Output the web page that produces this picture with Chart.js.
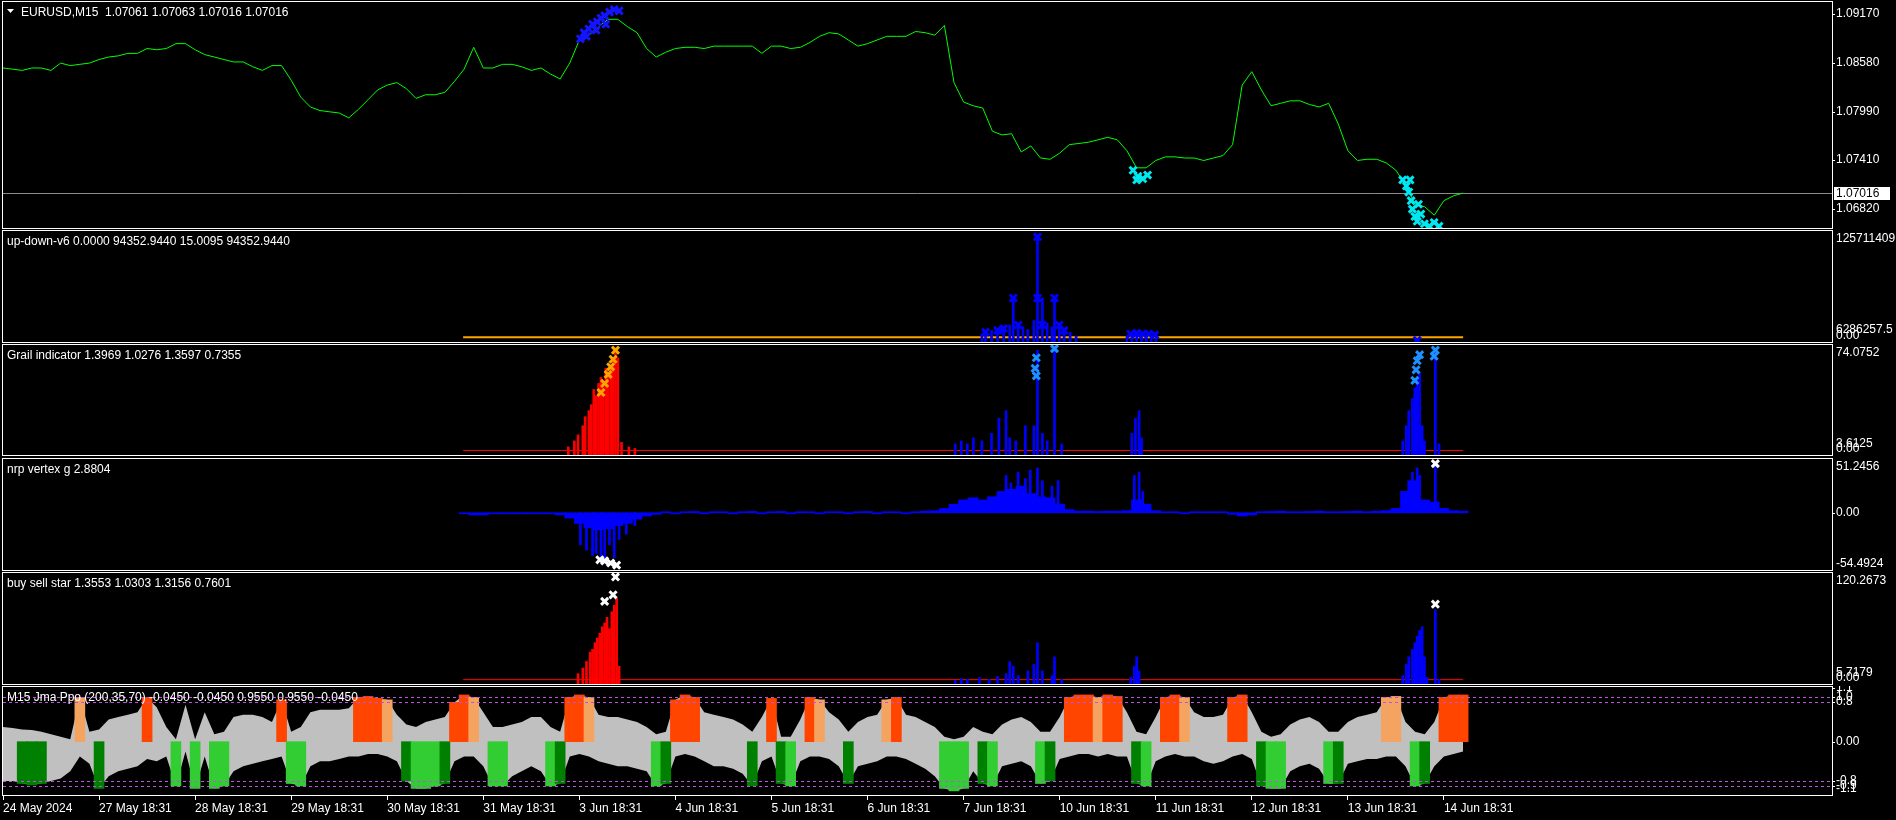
<!DOCTYPE html>
<html>
<head>
<meta charset="utf-8">
<script src="https://cdn.jsdelivr.net/npm/chart.js@4.4.1/dist/chart.umd.min.js"></script>
<style>
  html, body { margin: 0; background: #000; overflow: hidden; width: 1896px; height: 820px; }
  canvas { position: absolute; left: 0; }
</style>
</head>
<body>
<canvas id="p1" width="1896" height="228" style="top:1px"></canvas>
<canvas id="p2" width="1896" height="113" style="top:230px"></canvas>
<canvas id="p3" width="1896" height="112" style="top:344px"></canvas>
<canvas id="p4" width="1896" height="113" style="top:458px"></canvas>
<canvas id="p5" width="1896" height="113" style="top:572px"></canvas>
<canvas id="p6" width="1896" height="134" style="top:686px"></canvas>
<script>
// time axis is in trading days from 24 May, one sample every STEP days
const STEP = 0.1;
const X_MAX = 19.04;
const IND_START = 4.79;
const DATA_END = 15.2;
const DAY_LABELS = ["24 May 2024", "27 May 18:31", "28 May 18:31", "29 May 18:31", "30 May 18:31", "31 May 18:31",
  "3 Jun 18:31", "4 Jun 18:31", "5 Jun 18:31", "6 Jun 18:31", "7 Jun 18:31", "10 Jun 18:31", "11 Jun 18:31",
  "12 Jun 18:31", "13 Jun 18:31", "14 Jun 18:31"];

// EURUSD M15 close
const PRICE = [
  1.08520, 1.08506, 1.08491, 1.08520, 1.08520, 1.08491, 1.08579, 1.08549, 1.08564, 1.08579,
  1.08622, 1.08652, 1.08666, 1.08696, 1.08696, 1.08754, 1.08740, 1.08754, 1.08813, 1.08813,
  1.08740, 1.08681, 1.08652, 1.08622, 1.08593, 1.08593, 1.08535, 1.08491, 1.08549, 1.08549,
  1.08373, 1.08169, 1.08051, 1.08008, 1.07993, 1.07978, 1.07920, 1.08022, 1.08139, 1.08256,
  1.08315, 1.08344, 1.08271, 1.08154, 1.08198, 1.08198, 1.08227, 1.08359, 1.08506, 1.08769,
  1.08520, 1.08520, 1.08564, 1.08564, 1.08535, 1.08491, 1.08520, 1.08447, 1.08388, 1.08579,
  1.08857, 1.08915, 1.09018, 1.09106, 1.09106, 1.09018, 1.08945, 1.08754, 1.08652, 1.08710,
  1.08754, 1.08769, 1.08769, 1.08754, 1.08783, 1.08783, 1.08783, 1.08783, 1.08783, 1.08696,
  1.08783, 1.08783, 1.08754, 1.08769, 1.08827, 1.08901, 1.08945, 1.08930, 1.08857, 1.08783,
  1.08813, 1.08857, 1.08901, 1.08901, 1.08901, 1.08959, 1.08945, 1.08915, 1.09032, 1.08344,
  1.08110, 1.08066, 1.08037, 1.07759, 1.07715, 1.07729, 1.07510, 1.07583, 1.07437, 1.07422,
  1.07495, 1.07598, 1.07612, 1.07627, 1.07656, 1.07686, 1.07656, 1.07525, 1.07319, 1.07319,
  1.07407, 1.07451, 1.07451, 1.07437, 1.07437, 1.07407, 1.07437, 1.07466, 1.07598, 1.08315,
  1.08476, 1.08256, 1.08066, 1.08095, 1.08125, 1.08125, 1.08081, 1.08051, 1.08095, 1.07847,
  1.07525, 1.07407, 1.07422, 1.07422, 1.07378, 1.07290, 1.07115, 1.06880, 1.06851, 1.06749,
  1.06924, 1.06982, 1.07016
];
const LAST_PRICE = 1.07016;
const PRICE_TICKS = [1.09170, 1.08580, 1.07990, 1.07410, 1.06820];

const BLUE_MARK_X = [6.011, 6.049, 6.099, 6.137, 6.074, 6.187, 6.225, 6.263, 6.313, 6.363, 6.414, 6.175, 6.275];
const BLUE_MARK_Y = [1.08871, 1.08945, 1.08989, 1.09047, 1.08901, 1.09076, 1.09120, 1.09149, 1.09193, 1.09223, 1.09208, 1.08974, 1.09047];
const CYAN_MARK_X = [11.764, 11.815, 11.865, 11.915, 11.802,
  14.571, 14.609, 14.634, 14.659, 14.672, 14.697, 14.722, 14.760, 14.797, 14.848, 14.898, 14.949, 14.735, 14.647];
const CYAN_MARK_Y = [1.07290, 1.07217, 1.07188, 1.07232, 1.07173,
  1.07173, 1.07100, 1.07027, 1.06924, 1.06822, 1.06734, 1.06676, 1.06763, 1.06646, 1.06617, 1.06661, 1.06617, 1.06881, 1.07173];

// up-down-v6 (millions)
const UD_MAX = 125.711409;
const UD_LEVEL = 6.2862575;
const UD_BAR_X = [10.190, 10.228, 10.291, 10.354, 10.417, 10.480, 10.517, 10.568, 10.618, 10.669, 10.731, 10.769, 10.820, 10.870,
  10.920, 10.946, 10.996, 11.046, 11.109, 11.172, 11.701, 11.751, 11.802, 11.852, 11.902, 11.953, 12.003];
const UD_BAR_Y = [10, 12, 14, 12, 18, 20, 50, 22, 18, 15, 25, 118, 50, 22, 18, 50, 20, 15, 12, 8, 8, 10, 12, 10, 9, 8, 6];
const UD_MARK_X = [10.517, 10.769, 10.946, 10.568, 10.820, 10.996, 10.769, 10.228, 10.354, 10.417, 11.046,
  11.739, 11.802, 11.865, 11.927, 11.991, 14.722];
const UD_MARK_Y = [50, 50, 50, 20, 20, 20, 118, 12, 14, 16, 14, 10, 11, 10, 10, 9, 3];

// Grail indicator
const GR_MAX = 74.0752;
const GR_LEVEL = 3.6125;
const GR_RED_X = [5.885, 5.948, 5.986, 6.036, 6.061, 6.099, 6.124, 6.150, 6.175, 6.200, 6.225, 6.250, 6.275, 6.300, 6.326,
  6.351, 6.376, 6.401, 6.439, 6.515, 6.578];
const GR_RED_Y = [6, 10, 14, 20, 26, 30, 34, 44, 40, 48, 52, 46, 58, 55, 60, 64, 68, 65, 9, 6, 5];
const GR_ORANGE_X = [6.225, 6.263, 6.300, 6.326, 6.351, 6.376];
const GR_ORANGE_Y = [42, 48, 54, 59, 64, 70];
const GR_BLUE_X = [9.913, 9.976, 10.039, 10.102, 10.190, 10.291, 10.367, 10.442, 10.480, 10.543, 10.643, 10.731, 10.769, 10.820,
  10.870, 10.946, 11.021, 11.751, 11.789, 11.827, 11.852,
  14.571, 14.609, 14.634, 14.672, 14.697, 14.722, 14.747, 14.773, 14.797, 14.911, 14.949];
const GR_BLUE_Y = [8, 10, 8, 12, 10, 15, 25, 30, 12, 10, 20, 20, 70, 15, 10, 72, 8, 15, 25, 30, 12,
  10, 20, 30, 38, 45, 50, 55, 20, 10, 68, 8];
const GR_SKY_X = [10.757, 10.744, 10.757, 10.946, 14.722, 14.710, 14.697, 14.747, 14.911, 14.898];
const GR_SKY_Y = [65, 58, 53, 71, 63, 57, 50, 67, 70, 66];

// nrp vertex g
const NRP_MAX = 51.2456;
const NRP_MIN = -54.4924;
const NRP_START = 4.8;
const NRP = [
  -1, -2, -2, -1, -1, -1, -1, -1, -1, -1,
  -2, -5, -10, -14, -16, -15, -12, -10, -6, -3,
  -1.5, 1, -1, 1, 1.2, -1, 1, 1, -1, 1,
  1.2, -1, 1, 1.2, -1, 1, 1, -1, 1, 1,
  -1, 1, 1.2, -1, 1, 1, -1, 1, 1.5, 2,
  4, 8, 12, 14, 12, 15, 20, 22, 25, 18,
  15, 14, 8, 3, 1.5, 1.5, 1.2, 1.5, 1.5, 2,
  12, 8, 2, 1, 1, -1, 1, 1, 1, 1,
  -1.5, -3, -2, 1, 1.2, 1.5, 1, 1, 1.2, 1.5,
  1, 1, 1.2, 1.5, 1, 1.5, 2, 4, 20, 30,
  12, 10, 4, 2, 1.5
];
const NRP_SPIKE_X = [6.011, 6.074, 6.137, 6.175, 6.225, 6.263, 6.313, 6.363, 6.414, 6.489, 6.578,
  10.442, 10.492, 10.568, 10.643, 10.694, 10.769, 10.820, 10.920, 10.983, 11.777, 11.827, 11.865,
  14.634, 14.672, 14.722, 14.747, 14.911];
const NRP_SPIKE_Y = [-30, -35, -40, -38, -44, -48, -30, -42, -25, -20, -12,
  35, 28, 38, 32, 40, 42, 30, 25, 30, 35, 38, 20, 30, 38, 42, 35, 47];
const NRP_MARK_X = [6.213, 6.263, 6.326, 6.388, 14.911];
const NRP_MARK_Y = [-44, -45, -47, -49, 46];

// buy sell star
const BSS_MAX = 120.2673;
const BSS_LEVEL = 5.7179;
const BSS_RED_X = [5.986, 6.036, 6.074, 6.112, 6.137, 6.162, 6.187, 6.213, 6.238, 6.263, 6.288, 6.313, 6.338, 6.363, 6.388, 6.414];
const BSS_RED_Y = [12, 18, 25, 35, 38, 45, 50, 55, 62, 66, 72, 60, 78, 85, 92, 20];
const BSS_BLUE_X = [9.913, 9.976, 10.039, 10.165, 10.266, 10.354, 10.442, 10.480, 10.517, 10.568, 10.669, 10.731, 10.769, 10.820,
  10.920, 10.946, 11.021, 11.739, 11.777, 11.802, 11.827,
  14.571, 14.609, 14.634, 14.672, 14.697, 14.722, 14.747, 14.773, 14.797, 14.823, 14.911, 14.949];
const BSS_BLUE_Y = [5, 7, 6, 8, 6, 9, 12, 25, 20, 10, 15, 22, 45, 15, 10, 30, 6, 8, 20, 30, 15,
  10, 22, 30, 38, 45, 52, 58, 62, 30, 8, 80, 6];
const BSS_MARK_X = [6.263, 6.351, 6.376, 14.911];
const BSS_MARK_Y = [89, 96, 115, 86];

// Jma Ppo envelope and histogram colour per sample
const JMA_UP = [
  .30, .28, .25, .24, .20, .15, .10, .05, .90, .20,
  .25, .45, .50, .55, .60, .90, .70, .30, .05, .75,
  .05, .60, .15, .20, .50, .55, .55, .50, .40, .85,
  .20, .30, .60, .65, .65, .65, .68, .90, .92, .88,
  .85, .55, .35, .30, .40, .45, .50, .80, .95, .90,
  .60, .30, .30, .35, .40, .50, .50, .30, .20, .90,
  .95, .90, .55, .50, .50, .45, .40, .30, .15, .20,
  .85, .95, .90, .60, .55, .50, .45, .35, .20, .50,
  .88, .10, .10, .45, .90, .85, .60, .45, .20, .40,
  .50, .55, .85, .90, .55, .50, .40, .30, .10, .05,
  .10, .30, .20, .15, .35, .45, .50, .40, .20, .20,
  .50, .90, .95, .95, .90, .95, .92, .60, .20, .15,
  .50, .90, .95, .90, .60, .50, .50, .55, .90, .95,
  .60, .20, .10, .15, .35, .45, .50, .40, .20, .20,
  .40, .50, .55, .60, .90, .92, .40, .20, .15, .40,
  .90, .95, .95
];
const JMA_DN = [
  -.80, -.80, -.85, -.88, -.85, -.80, -.75, -.60, -.30, -.45,
  -.95, -.70, -.60, -.55, -.50, -.35, -.40, -.30, -.90, -.20,
  -.95, -.30, -.95, -.90, -.60, -.50, -.45, -.40, -.35, -.30,
  -.85, -.90, -.50, -.40, -.40, -.35, -.30, -.30, -.25, -.25,
  -.30, -.40, -.80, -.95, -.95, -.90, -.85, -.40, -.30, -.30,
  -.50, -.90, -.90, -.70, -.60, -.50, -.60, -.90, -.85, -.30,
  -.25, -.30, -.40, -.45, -.50, -.50, -.55, -.60, -.90, -.85,
  -.30, -.25, -.30, -.40, -.50, -.50, -.55, -.65, -.90, -.40,
  -.30, -.85, -.90, -.40, -.30, -.30, -.35, -.50, -.85, -.50,
  -.45, -.40, -.30, -.30, -.35, -.45, -.55, -.70, -.95, -1.0,
  -.95, -.60, -.85, -.90, -.50, -.45, -.40, -.50, -.85, -.80,
  -.35, -.30, -.25, -.25, -.30, -.25, -.30, -.30, -.85, -.90,
  -.40, -.30, -.25, -.30, -.30, -.40, -.45, -.40, -.30, -.25,
  -.35, -.90, -.95, -.95, -.60, -.50, -.45, -.55, -.85, -.85,
  -.45, -.40, -.35, -.35, -.30, -.30, -.50, -.90, -.85, -.50,
  -.30, -.25, -.20
];
const JMA_ZONE =
  "..GGG...S." + "G....R..L." + "L.LL.....R" + "LL.....RRR" + "S.GLLLGRRS" +
  ".LL....LGR" + "RS......LG" + "RRR.....G." + "RGL.RS..G." + "..SR....LL" +
  "L.GL....LG" + ".RRRSRR.GL" + ".RRS....RR" + ".GLL....LG" + "....SS.LG." + "RRR";
const JMA_LEVELS = [0.9, 0.8, -0.8, -0.9];
const ZONE_COLORS = { R: "#ff4500", S: "#f4a460", G: "#008000", L: "#32cd32" };

const FONT = '12px "Liberation Sans", Arial, sans-serif';

const xy = (xs, ys) => xs.map((x, i) => ({ x, y: ys[i] }));
const series = (start, vals) => vals.map((y, i) => ({ x: start + i * STEP, y }));

// frame, right-hand scale labels, title, levels
const mtPanel = {
  id: "mtPanel",
  beforeDatasetsDraw(chart, args, o) {
    const { ctx, chartArea: a } = chart;
    const y = chart.scales.y;
    ctx.save();
    if (o.price != null) {
      const py = Math.round(y.getPixelForValue(o.price)) + 0.5;
      ctx.strokeStyle = "#8c8c8c";
      ctx.lineWidth = 1;
      ctx.beginPath(); ctx.moveTo(a.left, py); ctx.lineTo(a.right, py); ctx.stroke();
    }
    ctx.restore();
  },
  afterDraw(chart, args, o) {
    const { ctx, chartArea: a } = chart;
    const y = chart.scales.y;
    ctx.save();
    if (o.levels) {
      ctx.strokeStyle = "#c050e0";
      ctx.lineWidth = 1;
      ctx.setLineDash([3, 3]);
      o.levels.forEach(v => {
        const py = Math.round(y.getPixelForValue(v)) + 0.5;
        ctx.beginPath(); ctx.moveTo(a.left, py); ctx.lineTo(a.right, py); ctx.stroke();
      });
      ctx.setLineDash([]);
    }
    ctx.strokeStyle = "#fff";
    ctx.lineWidth = 1;
    ctx.strokeRect(a.left - 0.5, a.top + 0.5, a.right - a.left + 1, a.bottom - a.top - 1);

    ctx.font = FONT;
    ctx.fillStyle = "#fff";
    ctx.textAlign = "left";
    (o.labels || []).forEach(([v, text, base]) => {
      const py = Math.round(y.getPixelForValue(v));
      ctx.textBaseline = base;
      if (base === "middle") {
        ctx.fillRect(a.right, py, 3, 1);
      }
      const ty = base === "top" ? py + 3 : base === "bottom" ? py - 1 : py;
      ctx.fillText(text, a.right + 4, ty);
    });
    if (o.price != null) {
      const py = Math.round(y.getPixelForValue(o.price));
      ctx.fillStyle = "#fff";
      ctx.fillRect(a.right + 2, py - 6, 56, 13);
      ctx.fillStyle = "#000";
      ctx.textBaseline = "middle";
      ctx.fillText(o.price.toFixed(5), a.right + 4, py + 1);
    }
    ctx.fillStyle = "#fff";
    ctx.textBaseline = "middle";
    let tx = a.left + 4;
    if (o.arrow) {
      ctx.beginPath();
      ctx.moveTo(a.left + 4, a.top + 8); ctx.lineTo(a.left + 11, a.top + 8); ctx.lineTo(a.left + 7.5, a.top + 12);
      ctx.closePath(); ctx.fill();
      tx = a.left + 18;
    }
    ctx.fillText(o.title, tx, a.top + 12);
    ctx.restore();
  }
};

function panel(id, datasets, yMin, yMax, panelOpts, showX) {
  const xScale = { type: "linear", min: 0, max: X_MAX, offset: false, display: false };
  if (showX) {
    Object.assign(xScale, {
      display: true,
      afterBuildTicks: axis => { axis.ticks = DAY_LABELS.map((l, i) => ({ value: i })); },
      afterFit: axis => { axis.height = 24; },
      border: { display: false },
      grid: { drawOnChartArea: false, drawTicks: true, tickLength: 4, color: "#fff", offset: false },
      ticks: {
        autoSkip: false, maxRotation: 0, align: "start", padding: 1, color: "#fff",
        font: { family: '"Liberation Sans", Arial, sans-serif', size: 12 },
        callback: (v, i) => DAY_LABELS[i]
      }
    });
  }
  return new Chart(document.getElementById(id), {
    type: "bar",
    data: { datasets },
    options: {
      responsive: false,
      animation: false,
      events: [],
      layout: { autoPadding: false, padding: { left: 3, right: 64, top: 0, bottom: 0 } },
      plugins: { legend: { display: false }, tooltip: { enabled: false }, mtPanel: panelOpts },
      scales: { x: xScale, y: { type: "linear", min: yMin, max: yMax, display: false } }
    },
    plugins: [mtPanel]
  });
}

const marks = (data, color, order) => ({
  type: "scatter", data, pointStyle: "crossRot", pointRadius: 5, borderWidth: 3,
  borderColor: color, backgroundColor: color, order
});
const spikes = (data, color, order) => ({
  type: "bar", data, backgroundColor: color, barThickness: 2, grouped: false, order
});
const level = (value, color, width) => ({
  type: "line", data: [{ x: IND_START, y: value }, { x: DATA_END, y: value }],
  borderColor: color, borderWidth: width, pointRadius: 0, order: 5
});

// Price
panel("p1", [
  { type: "line", data: series(0, PRICE), borderColor: "#00ff00", borderWidth: 1, pointRadius: 0, tension: 0, order: 3 },
  marks(xy(BLUE_MARK_X, BLUE_MARK_Y), "#1414ff", 2),
  marks(xy(CYAN_MARK_X, CYAN_MARK_Y), "#00e8f0", 1)
], 1.06583, 1.09326, {
  title: "EURUSD,M15  1.07061 1.07063 1.07016 1.07016", arrow: true, price: LAST_PRICE,
  labels: PRICE_TICKS.map(v => [v, v.toFixed(5), "middle"])
});

// up-down-v6
panel("p2", [
  level(UD_LEVEL, "#ffa500", 2),
  spikes(xy(UD_BAR_X, UD_BAR_Y), "#0000ff", 2),
  marks(xy(UD_MARK_X, UD_MARK_Y), "#0000ff", 1)
], 0, UD_MAX, {
  title: "up-down-v6 0.0000 94352.9440 15.0095 94352.9440",
  labels: [[UD_MAX, "125711409", "top"], [UD_LEVEL, "6286257.5", "bottom"], [0, "0.00", "bottom"]]
});

// Grail indicator
panel("p3", [
  level(GR_LEVEL, "#ff0000", 1),
  spikes(xy(GR_RED_X, GR_RED_Y), "#ff0000", 3),
  spikes(xy(GR_BLUE_X, GR_BLUE_Y), "#0000ff", 3),
  marks(xy(GR_ORANGE_X, GR_ORANGE_Y), "#ffa500", 1),
  marks(xy(GR_SKY_X, GR_SKY_Y), "#1e90ff", 1)
], 0, GR_MAX, {
  title: "Grail indicator 1.3969 1.0276 1.3597 0.7355",
  labels: [[GR_MAX, "74.0752", "top"], [GR_LEVEL, "3.6125", "bottom"], [0, "0.00", "bottom"]]
});

// nrp vertex g
panel("p4", [
  { type: "bar", data: series(NRP_START, NRP), backgroundColor: "#0000ff", barThickness: 10, grouped: false, order: 3 },
  spikes(xy(NRP_SPIKE_X, NRP_SPIKE_Y), "#0000ff", 2),
  marks(xy(NRP_MARK_X, NRP_MARK_Y), "#ffffff", 1)
], NRP_MIN, NRP_MAX, {
  title: "nrp vertex g 2.8804",
  labels: [[NRP_MAX, "51.2456", "top"], [0, "0.00", "middle"], [NRP_MIN, "-54.4924", "bottom"]]
});

// buy sell star
panel("p5", [
  level(BSS_LEVEL, "#ff0000", 1),
  spikes(xy(BSS_RED_X, BSS_RED_Y), "#ff0000", 3),
  spikes(xy(BSS_BLUE_X, BSS_BLUE_Y), "#0000ff", 3),
  marks(xy(BSS_MARK_X, BSS_MARK_Y), "#ffffff", 1)
], 0, BSS_MAX, {
  title: "buy sell star 1.3553 1.0303 1.3156 0.7601",
  labels: [[BSS_MAX, "120.2673", "top"], [BSS_LEVEL, "5.7179", "bottom"], [0, "0.00", "bottom"]]
});

// Jma Ppo
const zoneBars = [];
const zoneCols = [];
JMA_ZONE.split("").forEach((c, i) => {
  if (c === ".") return;
  zoneBars.push({ x: i * STEP, y: "RS".includes(c) ? JMA_UP[i] : JMA_DN[i] });
  zoneCols.push(ZONE_COLORS[c]);
});
panel("p6", [
  { type: "line", data: series(0, JMA_UP), borderWidth: 0, pointRadius: 0, fill: "+1", backgroundColor: "#c0c0c0", order: 3 },
  { type: "line", data: series(0, JMA_DN), borderWidth: 0, pointRadius: 0, fill: false, order: 4 },
  { type: "bar", data: zoneBars, backgroundColor: zoneCols, barThickness: 10, grouped: false, order: 1 }
], -1.104, 1.132, {
  title: "M15 Jma Ppo (200,35,70) -0.0450 -0.0450 0.9550 0.9550 -0.0450",
  levels: JMA_LEVELS,
  labels: [[1.1, "1.1", "middle"], [0.9, "1.0", "middle"], [0.8, "0.8", "middle"], [0, "0.00", "middle"],
    [-0.8, "-0.8", "middle"], [-0.9, "-0.9", "middle"], [-1.104, "-1.1", "bottom"]]
}, true);
</script>
</body>
</html>
